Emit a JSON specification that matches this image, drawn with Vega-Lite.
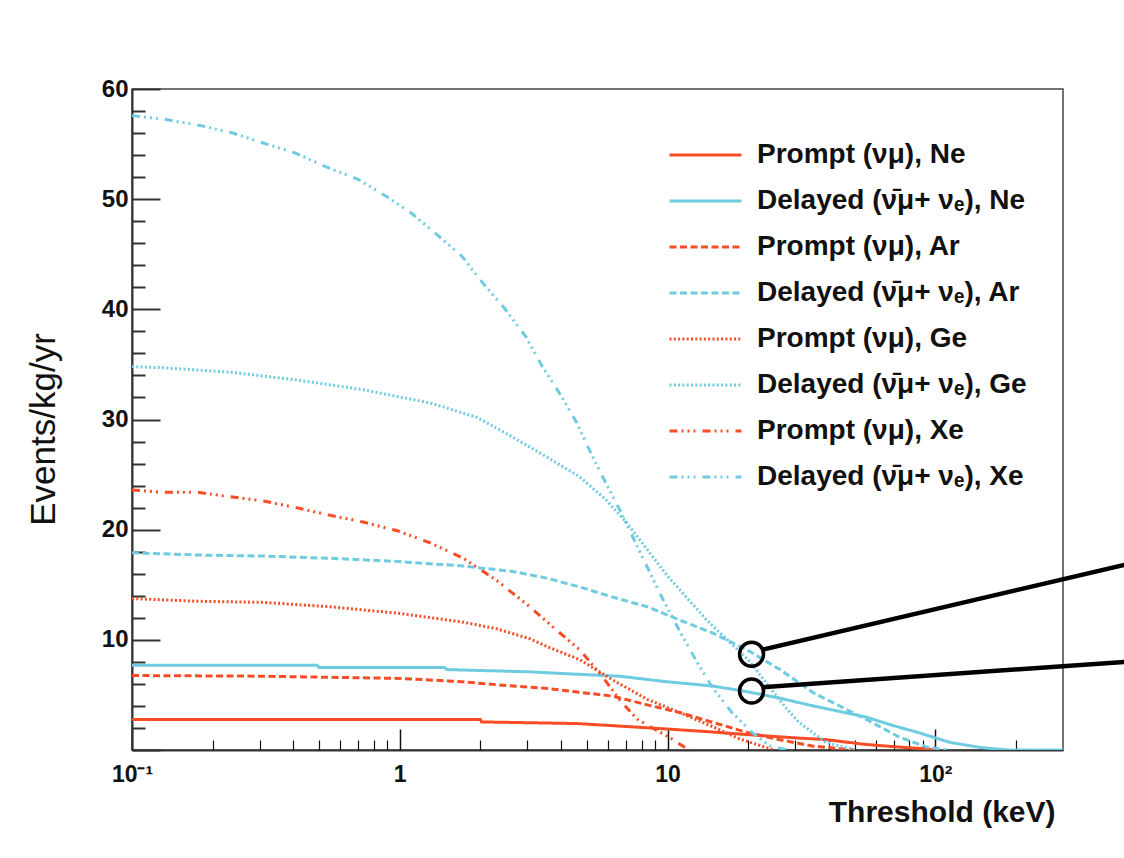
{
  "$schema": "https://vega.github.io/schema/vega-lite/v6.json",
  "width": 931,
  "height": 661,
  "autosize": {"type": "none"},
  "padding": {"left": 132, "top": 89, "right": 61, "bottom": 108},
  "background": "white",
  "config": {
    "view": {"stroke": "#444", "strokeWidth": 1.5},
    "font": "Liberation Sans"
  },
  "datasets": {
    "curves": [
      {"series": "Prompt (νμ), Ne", "x": 0.1, "y": 2.77},
      {"series": "Prompt (νμ), Ne", "x": 1.0, "y": 2.77},
      {"series": "Prompt (νμ), Ne", "x": 2.0, "y": 2.77},
      {"series": "Prompt (νμ), Ne", "x": 2.02, "y": 2.55},
      {"series": "Prompt (νμ), Ne", "x": 4.6, "y": 2.4},
      {"series": "Prompt (νμ), Ne", "x": 7.4, "y": 2.1},
      {"series": "Prompt (νμ), Ne", "x": 10, "y": 1.9},
      {"series": "Prompt (νμ), Ne", "x": 13.5, "y": 1.7},
      {"series": "Prompt (νμ), Ne", "x": 19.8, "y": 1.4},
      {"series": "Prompt (νμ), Ne", "x": 30, "y": 1.1},
      {"series": "Prompt (νμ), Ne", "x": 39, "y": 0.95},
      {"series": "Prompt (νμ), Ne", "x": 55, "y": 0.5},
      {"series": "Prompt (νμ), Ne", "x": 75, "y": 0.25},
      {"series": "Prompt (νμ), Ne", "x": 93, "y": 0.1},
      {"series": "Prompt (νμ), Ne", "x": 100, "y": 0},

      {"series": "Delayed (ν̄μ+ νₑ), Ne", "x": 0.1, "y": 7.7},
      {"series": "Delayed (ν̄μ+ νₑ), Ne", "x": 0.49, "y": 7.7},
      {"series": "Delayed (ν̄μ+ νₑ), Ne", "x": 0.5, "y": 7.5},
      {"series": "Delayed (ν̄μ+ νₑ), Ne", "x": 1.47, "y": 7.5},
      {"series": "Delayed (ν̄μ+ νₑ), Ne", "x": 1.5, "y": 7.3},
      {"series": "Delayed (ν̄μ+ νₑ), Ne", "x": 3.0, "y": 7.1},
      {"series": "Delayed (ν̄μ+ νₑ), Ne", "x": 4.4, "y": 6.9},
      {"series": "Delayed (ν̄μ+ νₑ), Ne", "x": 6.6, "y": 6.7},
      {"series": "Delayed (ν̄μ+ νₑ), Ne", "x": 9.9, "y": 6.2},
      {"series": "Delayed (ν̄μ+ νₑ), Ne", "x": 14.8, "y": 5.8},
      {"series": "Delayed (ν̄μ+ νₑ), Ne", "x": 19.8, "y": 5.3},
      {"series": "Delayed (ν̄μ+ νₑ), Ne", "x": 26.3, "y": 4.7},
      {"series": "Delayed (ν̄μ+ νₑ), Ne", "x": 35, "y": 4.0},
      {"series": "Delayed (ν̄μ+ νₑ), Ne", "x": 42, "y": 3.6},
      {"series": "Delayed (ν̄μ+ νₑ), Ne", "x": 55, "y": 3.0},
      {"series": "Delayed (ν̄μ+ νₑ), Ne", "x": 70, "y": 2.2},
      {"series": "Delayed (ν̄μ+ νₑ), Ne", "x": 86, "y": 1.6},
      {"series": "Delayed (ν̄μ+ νₑ), Ne", "x": 113, "y": 0.7},
      {"series": "Delayed (ν̄μ+ νₑ), Ne", "x": 150, "y": 0.2},
      {"series": "Delayed (ν̄μ+ νₑ), Ne", "x": 190, "y": 0},
      {"series": "Delayed (ν̄μ+ νₑ), Ne", "x": 300, "y": 0},

      {"series": "Prompt (νμ), Ar", "x": 0.1, "y": 6.76},
      {"series": "Prompt (νμ), Ar", "x": 0.3, "y": 6.7},
      {"series": "Prompt (νμ), Ar", "x": 1.0, "y": 6.5},
      {"series": "Prompt (νμ), Ar", "x": 1.7, "y": 6.2},
      {"series": "Prompt (νμ), Ar", "x": 2.65, "y": 5.8},
      {"series": "Prompt (νμ), Ar", "x": 3.5, "y": 5.6},
      {"series": "Prompt (νμ), Ar", "x": 6.2, "y": 4.9},
      {"series": "Prompt (νμ), Ar", "x": 8.4, "y": 4.1},
      {"series": "Prompt (νμ), Ar", "x": 11.1, "y": 3.4},
      {"series": "Prompt (νμ), Ar", "x": 14.8, "y": 2.5},
      {"series": "Prompt (νμ), Ar", "x": 19.8, "y": 1.6},
      {"series": "Prompt (νμ), Ar", "x": 26, "y": 0.95},
      {"series": "Prompt (νμ), Ar", "x": 35, "y": 0.35},
      {"series": "Prompt (νμ), Ar", "x": 50, "y": 0},

      {"series": "Delayed (ν̄μ+ νₑ), Ar", "x": 0.1, "y": 17.9},
      {"series": "Delayed (ν̄μ+ νₑ), Ar", "x": 0.175, "y": 17.7},
      {"series": "Delayed (ν̄μ+ νₑ), Ar", "x": 0.31, "y": 17.6},
      {"series": "Delayed (ν̄μ+ νₑ), Ar", "x": 0.55, "y": 17.4},
      {"series": "Delayed (ν̄μ+ νₑ), Ar", "x": 1.0, "y": 17.1},
      {"series": "Delayed (ν̄μ+ νₑ), Ar", "x": 1.73, "y": 16.7},
      {"series": "Delayed (ν̄μ+ νₑ), Ar", "x": 2.65, "y": 16.2},
      {"series": "Delayed (ν̄μ+ νₑ), Ar", "x": 3.54, "y": 15.6},
      {"series": "Delayed (ν̄μ+ νₑ), Ar", "x": 4.7, "y": 14.8},
      {"series": "Delayed (ν̄μ+ νₑ), Ar", "x": 6.2, "y": 13.9},
      {"series": "Delayed (ν̄μ+ νₑ), Ar", "x": 8.4, "y": 13.0},
      {"series": "Delayed (ν̄μ+ νₑ), Ar", "x": 11.1, "y": 11.8},
      {"series": "Delayed (ν̄μ+ νₑ), Ar", "x": 14.8, "y": 10.6},
      {"series": "Delayed (ν̄μ+ νₑ), Ar", "x": 19.8, "y": 9.1},
      {"series": "Delayed (ν̄μ+ νₑ), Ar", "x": 26.3, "y": 7.3},
      {"series": "Delayed (ν̄μ+ νₑ), Ar", "x": 35, "y": 5.2},
      {"series": "Delayed (ν̄μ+ νₑ), Ar", "x": 55, "y": 2.8},
      {"series": "Delayed (ν̄μ+ νₑ), Ar", "x": 73, "y": 1.2},
      {"series": "Delayed (ν̄μ+ νₑ), Ar", "x": 92, "y": 0.3},
      {"series": "Delayed (ν̄μ+ νₑ), Ar", "x": 110, "y": 0},

      {"series": "Prompt (νμ), Ge", "x": 0.1, "y": 13.75},
      {"series": "Prompt (νμ), Ge", "x": 0.175, "y": 13.5},
      {"series": "Prompt (νμ), Ge", "x": 0.31, "y": 13.4},
      {"series": "Prompt (νμ), Ge", "x": 0.55, "y": 13.0},
      {"series": "Prompt (νμ), Ge", "x": 1.0, "y": 12.4},
      {"series": "Prompt (νμ), Ge", "x": 1.73, "y": 11.6},
      {"series": "Prompt (νμ), Ge", "x": 2.3, "y": 11.0},
      {"series": "Prompt (νμ), Ge", "x": 3.06, "y": 10.1},
      {"series": "Prompt (νμ), Ge", "x": 3.54, "y": 9.4},
      {"series": "Prompt (νμ), Ge", "x": 4.7, "y": 8.2},
      {"series": "Prompt (νμ), Ge", "x": 6.2, "y": 6.4},
      {"series": "Prompt (νμ), Ge", "x": 8.4, "y": 4.6},
      {"series": "Prompt (νμ), Ge", "x": 11.1, "y": 3.4},
      {"series": "Prompt (νμ), Ge", "x": 14.8, "y": 2.1},
      {"series": "Prompt (νμ), Ge", "x": 18.6, "y": 1.0},
      {"series": "Prompt (νμ), Ge", "x": 25, "y": 0},

      {"series": "Delayed (ν̄μ+ νₑ), Ge", "x": 0.1, "y": 34.8},
      {"series": "Delayed (ν̄μ+ νₑ), Ge", "x": 0.13, "y": 34.7},
      {"series": "Delayed (ν̄μ+ νₑ), Ge", "x": 0.23, "y": 34.3},
      {"series": "Delayed (ν̄μ+ νₑ), Ge", "x": 0.41, "y": 33.6},
      {"series": "Delayed (ν̄μ+ νₑ), Ge", "x": 0.73, "y": 32.7},
      {"series": "Delayed (ν̄μ+ νₑ), Ge", "x": 1.3, "y": 31.5},
      {"series": "Delayed (ν̄μ+ νₑ), Ge", "x": 1.94, "y": 30.2},
      {"series": "Delayed (ν̄μ+ νₑ), Ge", "x": 2.64, "y": 28.4},
      {"series": "Delayed (ν̄μ+ νₑ), Ge", "x": 3.54, "y": 26.6},
      {"series": "Delayed (ν̄μ+ νₑ), Ge", "x": 4.7, "y": 24.8},
      {"series": "Delayed (ν̄μ+ νₑ), Ge", "x": 5.9, "y": 22.7},
      {"series": "Delayed (ν̄μ+ νₑ), Ge", "x": 7.0, "y": 20.7},
      {"series": "Delayed (ν̄μ+ νₑ), Ge", "x": 10, "y": 15.8},
      {"series": "Delayed (ν̄μ+ νₑ), Ge", "x": 14, "y": 11.8},
      {"series": "Delayed (ν̄μ+ νₑ), Ge", "x": 20, "y": 8.2},
      {"series": "Delayed (ν̄μ+ νₑ), Ge", "x": 27.5, "y": 3.9},
      {"series": "Delayed (ν̄μ+ νₑ), Ge", "x": 31, "y": 2.5},
      {"series": "Delayed (ν̄μ+ νₑ), Ge", "x": 39, "y": 0.7},
      {"series": "Delayed (ν̄μ+ νₑ), Ge", "x": 50, "y": 0},

      {"series": "Prompt (νμ), Xe", "x": 0.1, "y": 23.6},
      {"series": "Prompt (νμ), Xe", "x": 0.13, "y": 23.4},
      {"series": "Prompt (νμ), Xe", "x": 0.175, "y": 23.4},
      {"series": "Prompt (νμ), Xe", "x": 0.23, "y": 23.0},
      {"series": "Prompt (νμ), Xe", "x": 0.31, "y": 22.6},
      {"series": "Prompt (νμ), Xe", "x": 0.41, "y": 22.0},
      {"series": "Prompt (νμ), Xe", "x": 0.55, "y": 21.3},
      {"series": "Prompt (νμ), Xe", "x": 0.73, "y": 20.7},
      {"series": "Prompt (νμ), Xe", "x": 0.98, "y": 19.9},
      {"series": "Prompt (νμ), Xe", "x": 1.3, "y": 18.8},
      {"series": "Prompt (νμ), Xe", "x": 1.73, "y": 17.4},
      {"series": "Prompt (νμ), Xe", "x": 2.3, "y": 15.4},
      {"series": "Prompt (νμ), Xe", "x": 3.06, "y": 13.0},
      {"series": "Prompt (νμ), Xe", "x": 3.8, "y": 11.0},
      {"series": "Prompt (νμ), Xe", "x": 4.7, "y": 9.1},
      {"series": "Prompt (νμ), Xe", "x": 5.7, "y": 6.7},
      {"series": "Prompt (νμ), Xe", "x": 6.6, "y": 4.6},
      {"series": "Prompt (νμ), Xe", "x": 7.7, "y": 2.8},
      {"series": "Prompt (νμ), Xe", "x": 10.4, "y": 1.0},
      {"series": "Prompt (νμ), Xe", "x": 12, "y": 0},

      {"series": "Delayed (ν̄μ+ νₑ), Xe", "x": 0.1, "y": 57.6},
      {"series": "Delayed (ν̄μ+ νₑ), Xe", "x": 0.136, "y": 57.2},
      {"series": "Delayed (ν̄μ+ νₑ), Xe", "x": 0.179, "y": 56.7},
      {"series": "Delayed (ν̄μ+ νₑ), Xe", "x": 0.238, "y": 56.0},
      {"series": "Delayed (ν̄μ+ νₑ), Xe", "x": 0.309, "y": 55.1},
      {"series": "Delayed (ν̄μ+ νₑ), Xe", "x": 0.406, "y": 54.2},
      {"series": "Delayed (ν̄μ+ νₑ), Xe", "x": 0.534, "y": 52.9},
      {"series": "Delayed (ν̄μ+ νₑ), Xe", "x": 0.699, "y": 51.8},
      {"series": "Delayed (ν̄μ+ νₑ), Xe", "x": 0.898, "y": 50.2},
      {"series": "Delayed (ν̄μ+ νₑ), Xe", "x": 1.11, "y": 48.7},
      {"series": "Delayed (ν̄μ+ νₑ), Xe", "x": 1.39, "y": 46.7},
      {"series": "Delayed (ν̄μ+ νₑ), Xe", "x": 1.71, "y": 44.8},
      {"series": "Delayed (ν̄μ+ νₑ), Xe", "x": 2.04, "y": 42.4},
      {"series": "Delayed (ν̄μ+ νₑ), Xe", "x": 2.46, "y": 40.1},
      {"series": "Delayed (ν̄μ+ νₑ), Xe", "x": 2.96, "y": 37.5},
      {"series": "Delayed (ν̄μ+ νₑ), Xe", "x": 3.41, "y": 34.8},
      {"series": "Delayed (ν̄μ+ νₑ), Xe", "x": 3.97, "y": 32.3},
      {"series": "Delayed (ν̄μ+ νₑ), Xe", "x": 4.58, "y": 29.7},
      {"series": "Delayed (ν̄μ+ νₑ), Xe", "x": 5.21, "y": 26.8},
      {"series": "Delayed (ν̄μ+ νₑ), Xe", "x": 5.92, "y": 24.1},
      {"series": "Delayed (ν̄μ+ νₑ), Xe", "x": 6.73, "y": 21.5},
      {"series": "Delayed (ν̄μ+ νₑ), Xe", "x": 7.7, "y": 18.5},
      {"series": "Delayed (ν̄μ+ νₑ), Xe", "x": 8.6, "y": 16.1},
      {"series": "Delayed (ν̄μ+ νₑ), Xe", "x": 9.6, "y": 13.7},
      {"series": "Delayed (ν̄μ+ νₑ), Xe", "x": 11.1, "y": 10.8},
      {"series": "Delayed (ν̄μ+ νₑ), Xe", "x": 12.8, "y": 8.1},
      {"series": "Delayed (ν̄μ+ νₑ), Xe", "x": 14.7, "y": 5.7},
      {"series": "Delayed (ν̄μ+ νₑ), Xe", "x": 17.4, "y": 3.4},
      {"series": "Delayed (ν̄μ+ νₑ), Xe", "x": 20.7, "y": 1.6},
      {"series": "Delayed (ν̄μ+ νₑ), Xe", "x": 24, "y": 0.4},
      {"series": "Delayed (ν̄μ+ νₑ), Xe", "x": 28, "y": 0}
    ],
    "circles": [
      {"x": 20.6, "y": 8.7},
      {"x": 20.6, "y": 5.35}
    ],
    "pointers": [
      {"x": 22.5, "y": 9.1, "x2": 508, "y2": 16.8},
      {"x": 22.5, "y": 5.7, "x2": 508, "y2": 8.0}
    ]
  },
  "resolve": {"axis": {"x": "independent", "y": "independent"}},
  "layer": [
    {
      "data": {"name": "curves"},
      "mark": {"type": "line", "strokeWidth": 3, "strokeCap": "butt", "clip": true},
      "encoding": {
        "x": {
          "field": "x", "type": "quantitative",
          "scale": {"type": "log", "domain": [0.1, 300], "nice": false},
          "axis": {
            "orient": "bottom", "values": [0.1, 1, 10, 100], "ticks": false,
            "domain": true, "domainColor": "#333", "domainWidth": 2,
            "labelExpr": "datum.value < 0.5 ? '10⁻¹' : datum.value > 50 ? '10²' : datum.value < 5 ? '1' : '10'",
            "labelFont": "Liberation Sans", "labelFontWeight": "bold", "labelFontSize": 23,
            "labelColor": "#111", "labelPadding": 13, "labelFlush": false, "grid": false,
            "title": "Threshold (keV)", "titleFont": "Liberation Sans", "titleFontWeight": "bold",
            "titleFontSize": 30, "titleColor": "#111", "titleX": 923, "titleY": 71,
            "titleAlign": "right", "titleBaseline": "alphabetic"
          }
        },
        "y": {
          "field": "y", "type": "quantitative",
          "scale": {"domain": [0, 60], "nice": false, "zero": false},
          "axis": {
            "orient": "left", "values": [10, 20, 30, 40, 50, 60], "ticks": false,
            "domain": true, "domainColor": "#333", "domainWidth": 2,
            "labelFont": "Liberation Sans", "labelFontWeight": "bold", "labelFontSize": 24,
            "labelColor": "#111", "labelPadding": 4, "labelFlush": false, "grid": false,
            "title": "Events/kg/yr", "titleFont": "Liberation Sans", "titleFontWeight": "normal",
            "titleFontSize": 35, "titleColor": "#111", "titleX": -78, "titleY": 340,
            "titleAngle": -90, "titleAlign": "center", "titleBaseline": "alphabetic"
          }
        },
        "color": {
          "field": "series", "type": "nominal",
          "scale": {
            "domain": ["Prompt (νμ), Ne", "Delayed (ν̄μ+ νₑ), Ne", "Prompt (νμ), Ar", "Delayed (ν̄μ+ νₑ), Ar", "Prompt (νμ), Ge", "Delayed (ν̄μ+ νₑ), Ge", "Prompt (νμ), Xe", "Delayed (ν̄μ+ νₑ), Xe"],
            "range": ["#f84c26", "#6fcbe0", "#f84c26", "#6fcbe0", "#f84c26", "#6fcbe0", "#f84c26", "#6fcbe0"]
          },
          "legend": {
            "title": null, "orient": "none", "legendX": 536, "legendY": 46,
            "symbolType": "stroke", "symbolSize": 5184, "symbolStrokeWidth": 3,
            "clipHeight": 40, "rowPadding": 6, "padding": 0,
            "labelFont": "Liberation Sans", "labelFontWeight": "bold", "labelFontSize": 28,
            "labelColor": "#111", "labelOffset": 14, "labelLimit": 500
          }
        },
        "strokeDash": {
          "field": "series", "type": "nominal",
          "scale": {
            "domain": ["Prompt (νμ), Ne", "Delayed (ν̄μ+ νₑ), Ne", "Prompt (νμ), Ar", "Delayed (ν̄μ+ νₑ), Ar", "Prompt (νμ), Ge", "Delayed (ν̄μ+ νₑ), Ge", "Prompt (νμ), Xe", "Delayed (ν̄μ+ νₑ), Xe"],
            "range": [[1, 0], [1, 0], [7, 3.5], [7, 3.5], [2, 2.3], [2, 2.3], [8, 4, 2, 4, 2, 4, 2, 7], [8, 4, 2, 4, 2, 4, 2, 7]]
          },
          "legend": {
            "title": null, "orient": "none", "legendX": 536, "legendY": 46,
            "symbolType": "stroke", "symbolSize": 5184, "symbolStrokeWidth": 3,
            "clipHeight": 40, "rowPadding": 6, "padding": 0,
            "labelFont": "Liberation Sans", "labelFontWeight": "bold", "labelFontSize": 28,
            "labelColor": "#111", "labelOffset": 14, "labelLimit": 500
          }
        }
      }
    },
    {
      "data": {"name": "circles"},
      "mark": {"type": "point", "shape": "circle", "size": 576, "filled": false, "stroke": "black", "strokeWidth": 3.5, "opacity": 1, "clip": false},
      "encoding": {
        "x": {
          "field": "x", "type": "quantitative",
          "scale": {"type": "log", "domain": [0.1, 300], "nice": false},
          "axis": {
            "orient": "bottom", "values": [0.1, 1, 10, 100], "labels": false, "domain": false,
            "ticks": true, "tickSize": -21, "tickColor": "#111", "tickWidth": 1.5, "grid": false, "title": null
          }
        },
        "y": {
          "field": "y", "type": "quantitative",
          "scale": {"domain": [0, 60], "nice": false, "zero": false},
          "axis": {
            "orient": "left", "values": [0, 10, 20, 30, 40, 50, 60], "labels": false, "domain": false,
            "ticks": true, "tickSize": -28, "tickColor": "#333", "tickWidth": 2, "grid": false, "title": null
          }
        }
      }
    },
    {
      "data": {"name": "pointers"},
      "mark": {"type": "rule", "stroke": "black", "strokeWidth": 4.5, "strokeCap": "butt", "clip": false},
      "encoding": {
        "x": {
          "field": "x", "type": "quantitative",
          "scale": {"type": "log", "domain": [0.1, 300], "nice": false},
          "axis": {
            "orient": "bottom", "values": [0.2, 0.3, 0.4, 0.5, 0.6, 0.7, 0.8, 0.9, 2, 3, 4, 5, 6, 7, 8, 9, 20, 30, 40, 50, 60, 70, 80, 90, 200],
            "labels": false, "domain": false, "ticks": true, "tickSize": -10, "tickColor": "#111",
            "tickWidth": 1.2, "grid": false, "title": null
          }
        },
        "x2": {"field": "x2"},
        "y": {
          "field": "y", "type": "quantitative",
          "scale": {"domain": [0, 60], "nice": false, "zero": false},
          "axis": {
            "orient": "left", "values": [2, 4, 6, 8, 12, 14, 16, 18, 22, 24, 26, 28, 32, 34, 36, 38, 42, 44, 46, 48, 52, 54, 56, 58],
            "labels": false, "domain": false, "ticks": true, "tickSize": -13, "tickColor": "#333",
            "tickWidth": 2, "grid": false, "title": null
          }
        },
        "y2": {"field": "y2"}
      }
    }
  ]
}
